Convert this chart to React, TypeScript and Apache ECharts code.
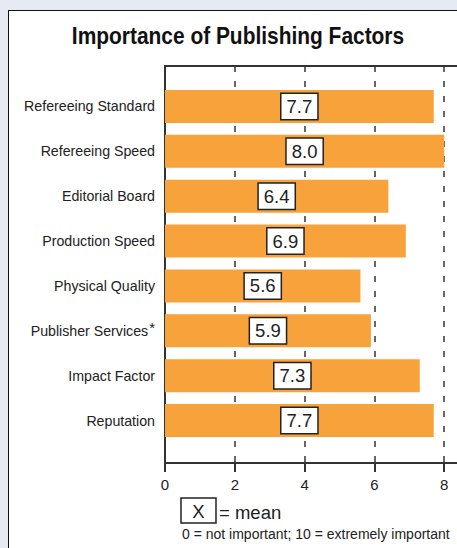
import React, { useEffect, useRef } from "react";
import * as echarts from "echarts";

const categories = [
  "Refereeing Standard",
  "Refereeing Speed",
  "Editorial Board",
  "Production Speed",
  "Physical Quality",
  "Publisher Services*",
  "Impact Factor",
  "Reputation",
];
const means = [7.7, 8.0, 6.4, 6.9, 5.6, 5.9, 7.3, 7.7];
const axisMin = 0;
const axisMax = 10;
const axisStep = 2;
const titleText = "Importance of Publishing Factors";
const legendMark = "X";
const legendText = "= mean";
const scaleNote = "0 = not important; 10 = extremely important";

const BAR = "#F7A23B";
const INK = "#222222";
const SANS = "'Liberation Sans', Arial, Helvetica, sans-serif";
const CHART_W = 530;

export default function App() {
  const ref = useRef<HTMLDivElement>(null);

  useEffect(() => {
    if (!ref.current) return;
    const chart = echarts.init(ref.current, undefined, { renderer: "svg" });
    const right = CHART_W - 514;
    const frameGrid = { left: 165, right, top: 66, bottom: 85 };
    const barGrid = { left: 165, right, top: 84, bottom: 105 };
    chart.setOption({
      animation: false,
      grid: [frameGrid, barGrid],
      xAxis: [
        {
          gridIndex: 0,
          type: "value",
          min: axisMin,
          max: axisMax,
          interval: axisStep,
          position: "bottom",
          axisLine: { show: true, lineStyle: { color: "#333", width: 2 } },
          axisTick: { show: true, length: 9, lineStyle: { color: "#333", width: 2 } },
          axisLabel: {
            fontSize: 15,
            color: INK,
            fontFamily: SANS,
            margin: 14,
            showMaxLabel: false,
          },
          splitLine: {
            show: true,
            lineStyle: { color: "#666", width: 2, type: [6, 9] },
          },
        },
        {
          gridIndex: 0,
          type: "value",
          min: axisMin,
          max: axisMax,
          position: "top",
          axisLine: { show: true, lineStyle: { color: "#333", width: 2 } },
          axisTick: { show: false },
          axisLabel: { show: false },
          splitLine: { show: false },
        },
        {
          gridIndex: 1,
          type: "value",
          min: axisMin,
          max: axisMax,
          show: false,
        },
      ],
      yAxis: [
        {
          gridIndex: 0,
          type: "value",
          min: 0,
          max: 1,
          axisLine: { show: true, lineStyle: { color: "#333", width: 2 } },
          axisTick: { show: false },
          axisLabel: { show: false },
          splitLine: { show: false },
        },
        {
          gridIndex: 1,
          type: "category",
          data: categories,
          inverse: true,
          axisLine: { show: false },
          axisTick: { show: false },
          splitLine: { show: false },
          axisLabel: {
            margin: 10,
            align: "right",
            formatter: (v: string) =>
              v.endsWith("*") ? `{a|${v.slice(0, -1)}}{s|*}` : `{a|${v}}`,
            rich: {
              a: { fontSize: 14.2, color: INK, fontFamily: SANS },
              s: { fontSize: 15, color: INK, fontFamily: SANS, padding: [0, 0, 7, 1] },
            },
          },
        },
      ],
      series: [
        {
          type: "bar",
          xAxisIndex: 2,
          yAxisIndex: 1,
          data: means,
          barWidth: 33,
          itemStyle: { color: BAR },
          label: {
            show: true,
            position: "inside",
            formatter: (p: any) => Number(p.value).toFixed(1),
            fontSize: 18.5,
            color: INK,
            fontFamily: SANS,
            backgroundColor: "#ffffff",
            borderColor: INK,
            borderWidth: 1.5,
            padding: [4, 5, 2, 5],
          },
        },
      ],
      graphic: [
        {
          type: "text",
          x: 238,
          y: 36,
          scaleX: 0.91,
          style: {
            text: titleText,
            fontSize: 23,
            fontWeight: "bold",
            fontFamily: SANS,
            fill: "#111",
            textAlign: "center",
            textVerticalAlign: "middle",
          },
        },
        {
          type: "rect",
          shape: { x: 181, y: 498, width: 35, height: 25 },
          style: { fill: "#fff", stroke: INK, lineWidth: 1.5 },
        },
        {
          type: "text",
          x: 198.5,
          y: 511,
          style: {
            text: legendMark,
            fontSize: 18.5,
            fontFamily: SANS,
            fill: INK,
            textAlign: "center",
            textVerticalAlign: "middle",
          },
        },
        {
          type: "text",
          x: 219,
          y: 512,
          style: {
            text: legendText,
            fontSize: 18.5,
            fontFamily: SANS,
            fill: INK,
            textAlign: "left",
            textVerticalAlign: "middle",
          },
        },
        {
          type: "text",
          x: 182,
          y: 534,
          style: {
            text: scaleNote,
            fontSize: 14,
            fontFamily: SANS,
            fill: INK,
            textAlign: "left",
            textVerticalAlign: "middle",
          },
        },
      ],
    });
    return () => chart.dispose();
  }, []);

  return (
    <div
      style={{
        position: "absolute",
        left: 0,
        top: 0,
        width: 457,
        height: 548,
        overflow: "hidden",
        background: "#e6eaf2",
      }}
    >
      <div
        style={{
          position: "absolute",
          left: 8,
          top: 10,
          width: 560,
          height: 620,
          background: "#ffffff",
          border: "1px solid #111",
        }}
      />
      <div
        ref={ref}
        style={{ position: "absolute", left: 0, top: 0, width: CHART_W, height: 548 }}
      />
    </div>
  );
}
